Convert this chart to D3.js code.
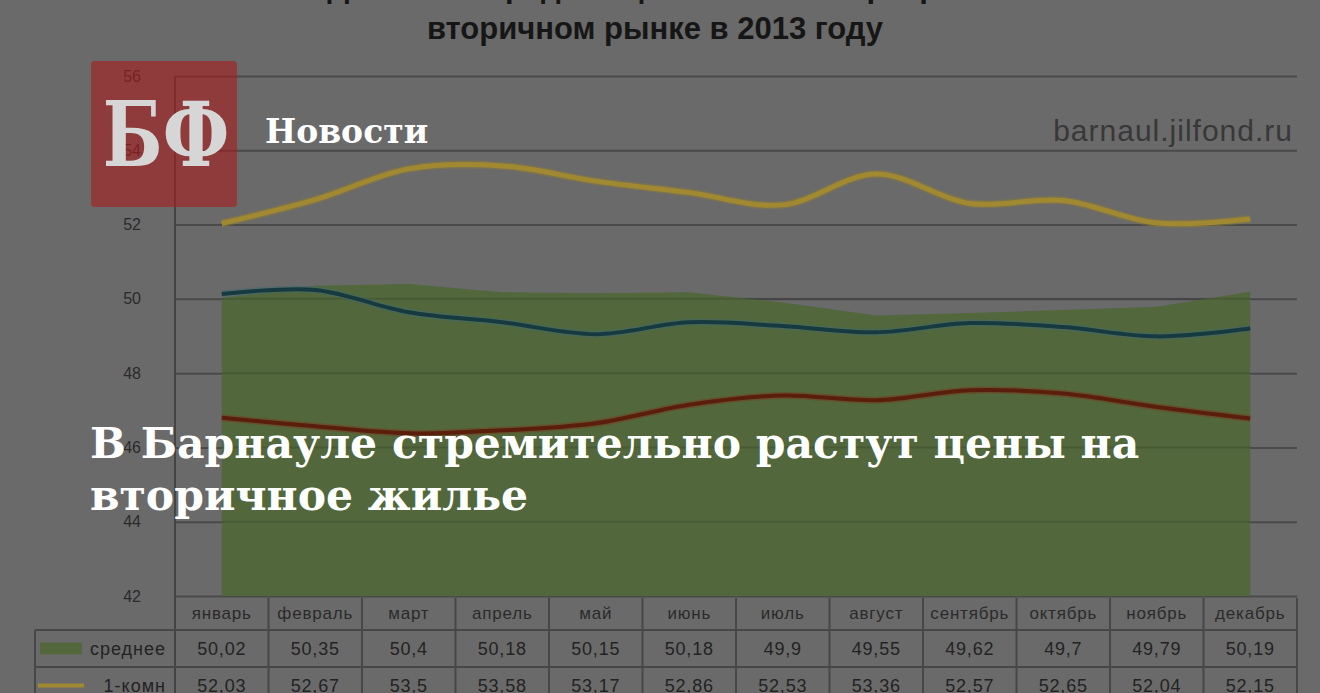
<!DOCTYPE html>
<html lang="ru">
<head>
    <meta charset="UTF-8">
    <title>В Барнауле стремительно растут цены на вторичное жилье</title>
    <script src="https://d3js.org/d3.v7.min.js"></script>
    <style>
        body {
            margin: 0;
            background-color: #6a6a6a;
            overflow: hidden;
        }
        svg { display: block; }
        .chart-text { font-family: "Liberation Sans", Arial, sans-serif; }
        .serif { font-family: "DejaVu Serif", "Liberation Serif", serif; font-weight: bold; }
    </style>
</head>
<body>
    <div id="chart"></div>
    <script>
        // Data (thousand rub. per sq.m)
        const months = ["январь", "февраль", "март", "апрель", "май", "июнь",
                        "июль", "август", "сентябрь", "октябрь", "ноябрь", "декабрь"];
        const avgPrice = [50.02, 50.35, 50.4, 50.18, 50.15, 50.18, 49.9, 49.55, 49.62, 49.7, 49.79, 50.19];
        const oneRoom = [52.03, 52.67, 53.5, 53.58, 53.17, 52.86, 52.53, 53.36, 52.57, 52.65, 52.04, 52.15];
        const twoRoom = [50.13, 50.24, 49.64, 49.37, 49.05, 49.37, 49.27, 49.1, 49.35, 49.24, 48.99, 49.2];
        const threeRoom = [46.8, 46.57, 46.38, 46.46, 46.65, 47.15, 47.4, 47.27, 47.54, 47.45, 47.09, 46.78];
        const yTicks = [42, 44, 46, 48, 50, 52, 54, 56];
        const tableRows = [
            {label: "среднее", values: avgPrice, key: "area"},
            {label: "1-комн", values: oneRoom, key: "line"}
        ];

        const W = 1320, H = 693;
        const plot = {left: 175, right: 1297, top: 76, bottom: 596};

        const svg = d3.select("#chart")
          .append("svg")
            .attr("width", W)
            .attr("height", H);

        // Scales
        const x = d3.scaleBand().domain(months).range([plot.left, plot.right]).padding(0);
        const cx = m => x(m) + x.bandwidth() / 2;
        const y = d3.scaleLinear().domain([42, 56]).range([plot.bottom, plot.top]);

        // Title (first line is cut by the frame)
        svg.append("text")
            .attr("class", "chart-text")
            .attr("x", 655).attr("y", -3)
            .attr("text-anchor", "middle")
            .attr("font-size", 31).attr("font-weight", "bold")
            .attr("fill", "#161616")
            .text("Динамика средней цены 1 кв.м квартир на");
        svg.append("text")
            .attr("class", "chart-text")
            .attr("x", 655).attr("y", 39)
            .attr("text-anchor", "middle")
            .attr("font-size", 31).attr("font-weight", "bold")
            .attr("fill", "#161616")
            .text("вторичном рынке в 2013 году");

        // Y axis with gridlines
        const yAxis = svg.append("g")
            .attr("class", "chart-text")
            .attr("transform", `translate(${plot.left},0)`)
            .call(d3.axisLeft(y).tickValues(yTicks).tickSize(-(plot.right - plot.left)).tickPadding(34));
        yAxis.select(".domain").remove();
        yAxis.selectAll(".tick line")
            .attr("stroke", "#4a4a4a").attr("stroke-width", 2);
        yAxis.selectAll(".tick text")
            .attr("font-size", 16).attr("fill", "#2a2a2a");

        // watermark
        svg.append("text")
            .attr("class", "chart-text")
            .attr("x", 1293).attr("y", 141)
            .attr("text-anchor", "end")
            .attr("font-size", 30)
            .attr("letter-spacing", 1)
            .attr("fill", "#383838")
            .text("barnaul.jilfond.ru");

        // Average price area
        const area = d3.area()
            .x((d, i) => cx(months[i]))
            .y0(y(42))
            .y1(d => y(d));
        svg.append("path")
            .datum(avgPrice)
            .attr("fill", "#52673c")
            .attr("d", area);

        // gridlines showing faintly through the area
        svg.append("g")
            .selectAll("line")
            .data(yTicks.filter(t => t > 42 && t < 50.4))
            .join("line")
            .attr("x1", cx(months[0])).attr("x2", cx(months[months.length - 1]))
            .attr("y1", d => y(d)).attr("y2", d => y(d))
            .attr("stroke", "#000").attr("stroke-opacity", 0.12).attr("stroke-width", 2);

        // Smoothed lines
        const line = d3.line()
            .x((d, i) => cx(months[i]))
            .y(d => y(d))
            .curve(d3.curveCatmullRom.alpha(0.5));

        const series = [
            {values: threeRoom, halo: "#7a3c1e", color: "#5a1e0c", w: 4},
            {values: twoRoom, halo: "#3f6a6e", color: "#163a40", w: 4},
            {values: oneRoom, halo: "#8c7a3a", color: "#a08930", w: 5}
        ];
        series.forEach(s => {
            svg.append("path")
                .datum(s.values)
                .attr("fill", "none")
                .attr("stroke", s.halo)
                .attr("stroke-width", s.w + 3)
                .attr("stroke-opacity", 0.5)
                .attr("d", line);
            svg.append("path")
                .datum(s.values)
                .attr("fill", "none")
                .attr("stroke", s.color)
                .attr("stroke-width", s.w)
                .attr("d", line);
        });

        // Vertical axis line (runs down into the table)
        svg.append("line")
            .attr("x1", plot.left).attr("x2", plot.left)
            .attr("y1", plot.top).attr("y2", H)
            .attr("stroke", "#444").attr("stroke-width", 2);

        // Data table under the chart
        const rowTop = [598, 630, 667];
        const rowH = [32, 37, 37];
        const legendLeft = 35;
        const table = svg.append("g").attr("class", "chart-text");

        // column separators
        table.selectAll(".col")
            .data(months)
            .join("line")
            .attr("class", "col")
            .attr("x1", d => x(d) + x.bandwidth()).attr("x2", d => x(d) + x.bandwidth())
            .attr("y1", rowTop[0]).attr("y2", H)
            .attr("stroke", "#474747").attr("stroke-width", 2);
        // row separators
        table.selectAll(".row")
            .data(rowTop.slice(1))
            .join("line")
            .attr("class", "row")
            .attr("x1", legendLeft).attr("x2", plot.right)
            .attr("y1", d => d).attr("y2", d => d)
            .attr("stroke", "#474747").attr("stroke-width", 2);
        table.append("line")
            .attr("x1", legendLeft).attr("x2", legendLeft)
            .attr("y1", rowTop[1]).attr("y2", H)
            .attr("stroke", "#474747").attr("stroke-width", 2);

        // month header
        table.selectAll(".month")
            .data(months)
            .join("text")
            .attr("class", "month")
            .attr("x", d => cx(d))
            .attr("y", rowTop[0] + rowH[0] / 2 + 5)
            .attr("text-anchor", "middle")
            .attr("font-size", 17)
            .attr("letter-spacing", 0.8)
            .attr("fill", "#2a2a2a")
            .text(d => d);

        // rows
        tableRows.forEach((r, ri) => {
            const top = rowTop[ri + 1];
            const mid = top + rowH[ri + 1] / 2;
            if (r.key === "area") {
                table.append("rect")
                    .attr("x", 40).attr("y", mid - 6)
                    .attr("width", 42).attr("height", 12)
                    .attr("fill", "#52673c");
            } else {
                table.append("line")
                    .attr("x1", 38).attr("x2", 84)
                    .attr("y1", mid).attr("y2", mid)
                    .attr("stroke", "#a08930").attr("stroke-width", 4);
            }
            table.append("text")
                .attr("x", 166).attr("y", mid + 6)
                .attr("text-anchor", "end")
                .attr("font-size", 18)
                .attr("letter-spacing", 1)
                .attr("fill", "#232323")
                .text(r.label);
            table.selectAll(".v" + ri)
                .data(r.values)
                .join("text")
                .attr("x", (d, i) => cx(months[i]))
                .attr("y", mid + 6)
                .attr("text-anchor", "middle")
                .attr("font-size", 18)
                .attr("letter-spacing", 0.8)
                .attr("fill", "#232323")
                .text(d => String(d).replace(".", ","));
        });

        // News card overlay
        svg.append("rect")
            .attr("x", 91).attr("y", 61)
            .attr("width", 146).attr("height", 146)
            .attr("rx", 4)
            .attr("fill", "rgb(168,28,28)")
            .attr("fill-opacity", 0.6);
        svg.append("text")
            .attr("transform", "translate(166,166) scale(1,1.15)")
            .attr("text-anchor", "middle")
            .attr("font-family", "'DejaVu Serif Condensed', 'DejaVu Serif', serif")
            .attr("font-weight", "bold")
            .attr("font-size", 78)
            .attr("fill", "#d6d6d6")
            .text("БФ");
        svg.append("text")
            .attr("class", "serif")
            .attr("x", 265).attr("y", 143)
            .attr("font-size", 33)
            .attr("fill", "#ffffff")
            .text("Новости");

        const headline = ["В Барнауле стремительно растут цены на", "вторичное жилье"];
        svg.selectAll(".headline")
            .data(headline)
            .join("text")
            .attr("class", "serif headline")
            .attr("x", 90)
            .attr("y", (d, i) => 458 + i * 52)
            .attr("font-size", 42.5)
            .attr("fill", "#ffffff")
            .text(d => d);
    </script>
</body>
</html>
